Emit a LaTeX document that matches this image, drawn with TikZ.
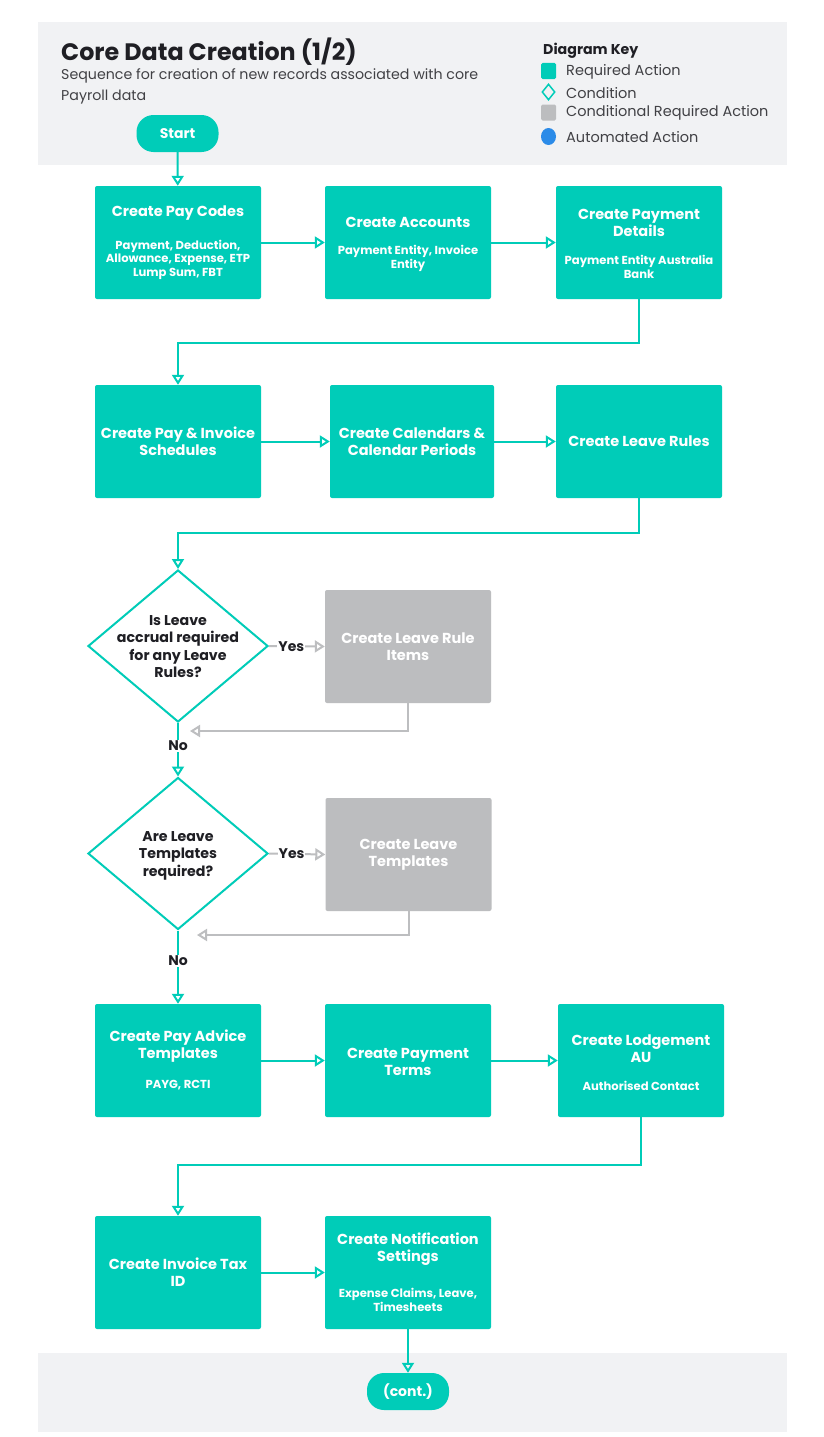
\documentclass[tikz,border=0pt]{standalone}
\usepackage{fontspec}
\setmainfont{Poppins}
\usetikzlibrary{arrows.meta,shapes.geometric}
\definecolor{tealc}{HTML}{00CCB8}
\definecolor{grayc}{HTML}{BCBDBF}
\definecolor{grayl}{HTML}{BDBEC0}
\definecolor{bandc}{HTML}{F1F2F4}
\definecolor{darkc}{HTML}{1F1F24}
\definecolor{bluec}{HTML}{2B8BE8}
\begin{document}
\begin{tikzpicture}[x=1pt,y=-1pt,
  req/.style={fill=tealc,draw=none,rounded corners=2pt,minimum width=166pt,minimum height=113pt,inner sep=0pt},
  cond/.style={fill=grayc,draw=none,rounded corners=2pt,minimum width=166pt,minimum height=113pt,inner sep=0pt},
  dec/.style={diamond,draw=tealc,line width=2pt,fill=white,minimum width=180pt,minimum height=152pt,inner sep=0pt},
  term/.style={fill=tealc,rounded corners=17pt,minimum width=82pt,minimum height=37pt,inner sep=0pt,text=white,font=\bfseries\fontsize{14}{17}\selectfont},
  ttl/.style={text=white,align=center,font=\bfseries\fontsize{14.5}{17}\selectfont,inner sep=0pt},
  sub/.style={text=white,align=center,font=\bfseries\fontsize{11.6}{13.5}\selectfont,inner sep=0pt},
  dtxt/.style={text=darkc,align=center,font=\bfseries\fontsize{14.2}{17.5}\selectfont,inner sep=0pt},
  lbl/.style={text=darkc,fill=white,font=\bfseries\fontsize{14}{16}\selectfont,inner sep=1pt},
  tl/.style={draw=tealc,line width=2pt,-{Triangle[open,length=10pt,width=12pt,line width=2pt]}},
  gl/.style={draw=grayl,line width=2pt,-{Triangle[open,length=10pt,width=12pt,line width=2pt]}},
  keyt/.style={anchor=west,text=darkc!85,font=\fontsize{14.5}{16}\selectfont,inner sep=0pt}
]
\useasboundingbox (0,0) rectangle (824,1437);
\fill[white] (0,0) rectangle (824,1437);
% bands
\fill[bandc] (38,22) rectangle (787,165);
\fill[bandc] (38,1353) rectangle (787,1432);

% header
\node[anchor=base west,inner sep=0pt,text=darkc,font=\bfseries\fontsize{23.8}{26}\selectfont] (title) at (61,60) {Core Data Creation (1/2)};
\node[anchor=north west,align=left,inner sep=0pt,text=darkc!85,font=\fontsize{14.2}{21}\selectfont] (subt) at (61,68) {Sequence for creation of new records associated with core\\Payroll data};

% key
\node[anchor=west,inner sep=0pt,text=darkc,font=\bfseries\fontsize{14.2}{16}\selectfont] (keyh) at (543,51) {Diagram Key};
\node[fill=tealc,rounded corners=1.5pt,minimum width=15pt,minimum height=16pt,inner sep=0pt] (k1) at (548.5,71) {};
\node[keyt] (k1t) at (566,72) {Required Action};
\node[diamond,draw=tealc,line width=1.5pt,minimum width=13pt,minimum height=16pt,inner sep=0pt] (k2) at (548.5,92) {};
\node[keyt] (k2t) at (566,93) {Condition};
\node[fill=grayc,rounded corners=1.5pt,minimum width=15pt,minimum height=16pt,inner sep=0pt] (k3) at (548.5,112.5) {};
\node[keyt] (k3t) at (566,113) {Conditional Required Action};
\node[ellipse,fill=bluec,minimum width=15pt,minimum height=17pt,inner sep=0pt] (k4) at (548.5,136.5) {};
\node[keyt] (k4t) at (566,137) {Automated Action};

% start
\node[term] (start) at (177.5,133.5) {Start};

% row 1
\node[req] (b1) at (178,242.5) {};
\node[ttl] (b1t) at (178,213) {Create Pay Codes};
\node[sub] (b1s) at (178,259.5) {Payment, Deduction,\\Allowance, Expense, ETP\\Lump Sum, FBT};
\node[req] (b2) at (408,242.5) {};
\node[ttl] (b2t) at (408,222) {Create Accounts};
\node[sub] (b2s) at (408,258.5) {Payment Entity, Invoice\\Entity};
\node[req] (b3) at (639,242.5) {};
\node[ttl] (b3t) at (639,222.5) {Create Payment\\Details};
\node[sub] (b3s) at (639,267) {Payment Entity Australia\\Bank};

% row 2
\node[req] (b4) at (178,441.5) {};
\node[ttl] (b4t) at (178,441.5) {Create Pay \& Invoice\\Schedules};
\node[req,minimum width=164pt] (b5) at (412,441.5) {};
\node[ttl] (b5t) at (412,441.5) {Create Calendars \&\\Calendar Periods};
\node[req] (b6) at (639,441.5) {};
\node[ttl] (b6t) at (639,441.5) {Create Leave Rules};

% decision 1
\node[dec] (d1) at (178,646) {};
\node[dtxt] (d1t) at (178,646.5) {Is Leave\\accrual required\\for any Leave\\Rules?};
\node[cond] (g1) at (408,646.5) {};
\node[ttl] (g1t) at (408,646.5) {Create Leave Rule\\Items};
\coordinate (r1) at (190,731);

% decision 2
\node[dec] (d2) at (178,853.5) {};
\node[dtxt] (d2t) at (178,855.5) {Are Leave\\Templates\\required?};
\node[cond] (g2) at (408.5,854.5) {};
\node[ttl] (g2t) at (408.5,854.5) {Create Leave\\Templates};
\coordinate (r2) at (197,935);

% row 3
\node[req] (b7) at (178,1060.5) {};
\node[ttl] (b7t) at (178,1046.5) {Create Pay Advice\\Templates};
\node[sub] (b7s) at (178,1085) {PAYG, RCTI};
\node[req] (b8) at (408,1060.5) {};
\node[ttl] (b8t) at (408,1061.5) {Create Payment\\Terms};
\node[req] (b9) at (641,1060.5) {};
\node[ttl] (b9t) at (641,1048.5) {Create Lodgement\\AU};
\node[sub] (b9s) at (641,1086) {Authorised Contact};

% row 4
\node[req] (b10) at (178,1272.5) {};
\node[ttl] (b10t) at (178,1272.5) {Create Invoice Tax\\ID};
\node[req] (b11) at (408,1272.5) {};
\node[ttl] (b11t) at (408,1249.5) {Create Notification\\Settings};
\node[sub] (b11s) at (408,1300) {Expense Claims, Leave,\\Timesheets};

% cont
\node[term] (cont) at (408,1391.5) {(cont.)};

% connectors
\draw[tl] (start) -- (b1);
\draw[tl] (b1) -- (b2);
\draw[tl] (b2) -- (b3);
\draw[tl] (b3.south) -- ++(0,44) -| (b4.north);
\draw[tl] (b4) -- (b5);
\draw[tl] (b5) -- (b6);
\draw[tl] (b6.south) -- ++(0,35) -| (d1.north);
\draw[gl] (d1.east) -- node[lbl,pos=0.4] {Yes} (g1.west);
\draw[gl] (g1.south) |- (r1);
\draw[tl] (d1.south) -- node[lbl,pos=0.43] {No} (d2.north);
\draw[gl] (d2.east) -- node[lbl,pos=0.4] {Yes} (g2.west);
\draw[gl] (g2.south) |- (r2);
\draw[tl] (d2.south) -- node[lbl,pos=0.41] {No} (b7.north);
\draw[tl] (b7) -- (b8);
\draw[tl] (b8) -- (b9);
\draw[tl] (b9.south) -- ++(0,48) -| (b10.north);
\draw[tl] (b10) -- (b11);
\draw[tl] (b11) -- (cont);
\end{tikzpicture}
\end{document}
